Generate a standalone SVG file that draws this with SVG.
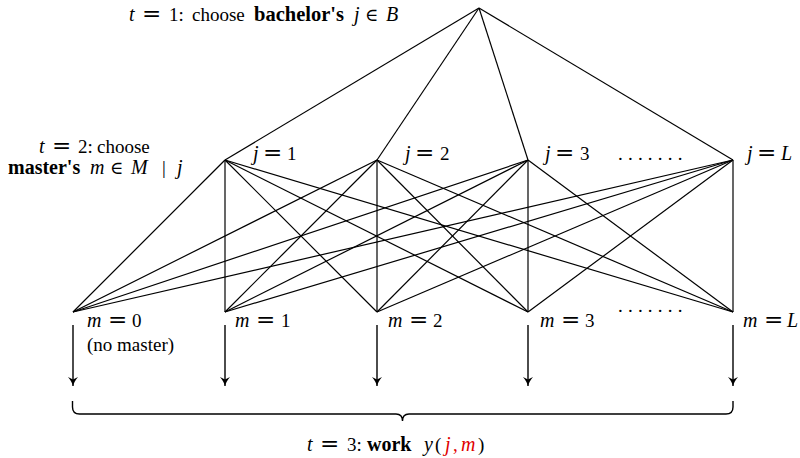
<svg xmlns="http://www.w3.org/2000/svg" width="800" height="458" viewBox="0 0 800 458">
<style>
text{font-family:"Liberation Serif","DejaVu Serif",serif;font-size:19px;fill:#000}
.i{font-style:italic;font-size:20px}
.b{font-weight:bold}
.o{font-family:"DejaVu Serif","Liberation Serif",serif;font-size:23px}
.n{font-family:"DejaVu Serif","Liberation Serif",serif;font-size:18px}
.e{stroke:#000;stroke-width:1.2;fill:none}
.a{stroke:#000;stroke-width:1.4;fill:none}
.r{fill:#e00000}
</style>
<defs>
<marker id="ah" markerWidth="12" markerHeight="12" refX="10" refY="5" orient="auto" markerUnits="userSpaceOnUse">
<path d="M10,5 C7,4.2 4,2.5 1,0 L3.5,5 L1,10 C4,7.5 7,5.8 10,5 Z" fill="#000"/>
</marker>
</defs>
<g id="connectors">
<line class="e" x1="479" y1="8" x2="225" y2="160"/>
<line class="e" x1="479" y1="8" x2="377" y2="160"/>
<line class="e" x1="479" y1="8" x2="528" y2="160"/>
<line class="e" x1="479" y1="8" x2="733" y2="160"/>
<line class="e" x1="225" y1="160" x2="73" y2="312"/>
<line class="e" x1="225" y1="160" x2="225" y2="312"/>
<line class="e" x1="225" y1="160" x2="377" y2="312"/>
<line class="e" x1="225" y1="160" x2="528" y2="312"/>
<line class="e" x1="225" y1="160" x2="733" y2="312"/>
<line class="e" x1="377" y1="160" x2="73" y2="312"/>
<line class="e" x1="377" y1="160" x2="225" y2="312"/>
<line class="e" x1="377" y1="160" x2="377" y2="312"/>
<line class="e" x1="377" y1="160" x2="528" y2="312"/>
<line class="e" x1="377" y1="160" x2="733" y2="312"/>
<line class="e" x1="528" y1="160" x2="73" y2="312"/>
<line class="e" x1="528" y1="160" x2="225" y2="312"/>
<line class="e" x1="528" y1="160" x2="377" y2="312"/>
<line class="e" x1="528" y1="160" x2="528" y2="312"/>
<line class="e" x1="528" y1="160" x2="733" y2="312"/>
<line class="e" x1="733" y1="160" x2="73" y2="312"/>
<line class="e" x1="733" y1="160" x2="225" y2="312"/>
<line class="e" x1="733" y1="160" x2="377" y2="312"/>
<line class="e" x1="733" y1="160" x2="528" y2="312"/>
<line class="e" x1="733" y1="160" x2="733" y2="312"/>
<line class="a" x1="73" y1="325" x2="73" y2="386" marker-end="url(#ah)"/>
<line class="a" x1="225" y1="325" x2="225" y2="386" marker-end="url(#ah)"/>
<line class="a" x1="377" y1="325" x2="377" y2="386" marker-end="url(#ah)"/>
<line class="a" x1="528" y1="325" x2="528" y2="386" marker-end="url(#ah)"/>
<line class="a" x1="733" y1="325" x2="733" y2="386" marker-end="url(#ah)"/>
<path class="a" d="M72.5,401 V407 Q72.5,414 79.5,414 H396 Q402.5,414 402.5,421 Q402.5,414 409,414 H726 Q733,414 733,407 V401"/>
</g>
<g id="t1">
<text y="21"><tspan class="i" x="129">t</tspan><tspan class="o" x="142">=</tspan><tspan x="169">1:</tspan><tspan x="192">choose</tspan><tspan class="b" x="254" style="font-size:20.5px">bachelor's</tspan><tspan class="i" x="354">j</tspan><tspan class="n" x="365">∈</tspan><tspan class="i" x="386">B</tspan></text>
</g>
<g id="t2">
<text y="153"><tspan class="i" x="39">t</tspan><tspan class="o" x="52">=</tspan><tspan x="78">2:</tspan><tspan x="97">choose</tspan></text>
<text y="174"><tspan class="b" x="8" style="font-size:20px">master's</tspan><tspan class="i" x="90">m</tspan><tspan class="n" x="110">∈</tspan><tspan class="i" x="131">M</tspan><tspan x="162">|</tspan><tspan class="i" x="177">j</tspan></text>
</g>
<g id="j1"><text y="160"><tspan class="i" x="253">j</tspan><tspan class="o" x="263">=</tspan><tspan x="287">1</tspan></text></g>
<g id="j2"><text y="160"><tspan class="i" x="405">j</tspan><tspan class="o" x="415">=</tspan><tspan x="440">2</tspan></text></g>
<g id="j3"><text y="160"><tspan class="i" x="545">j</tspan><tspan class="o" x="555">=</tspan><tspan x="580">3</tspan></text></g>
<g id="jdots"><text x="618" y="160" letter-spacing="5.2">.......</text></g>
<g id="jL"><text y="160"><tspan class="i" x="747">j</tspan><tspan class="o" x="757">=</tspan><tspan class="i" x="781">L</tspan></text></g>
<g id="m0">
<text y="327"><tspan class="i" x="87">m</tspan><tspan class="o" x="108">=</tspan><tspan x="132">0</tspan></text>
<text x="87" y="351">(no master)</text>
</g>
<g id="m1"><text y="327"><tspan class="i" x="235">m</tspan><tspan class="o" x="256">=</tspan><tspan x="281">1</tspan></text></g>
<g id="m2"><text y="327"><tspan class="i" x="388">m</tspan><tspan class="o" x="409">=</tspan><tspan x="433">2</tspan></text></g>
<g id="m3"><text y="327"><tspan class="i" x="540">m</tspan><tspan class="o" x="561">=</tspan><tspan x="585">3</tspan></text></g>
<g id="mdots"><text x="618" y="312" letter-spacing="5.2">.......</text></g>
<g id="mL"><text y="327"><tspan class="i" x="743">m</tspan><tspan class="o" x="764">=</tspan><tspan class="i" x="787">L</tspan></text></g>
<g id="t3">
<text y="451"><tspan class="i" x="307">t</tspan><tspan class="o" x="320">=</tspan><tspan x="347">3:</tspan><tspan class="b" x="367" style="font-size:20px">work</tspan><tspan class="i" x="424">y</tspan><tspan x="435">(</tspan><tspan class="i r" x="445">j</tspan><tspan class="r" x="453">,</tspan><tspan class="i r" x="461">m</tspan><tspan x="478">)</tspan></text>
</g>
</svg>
